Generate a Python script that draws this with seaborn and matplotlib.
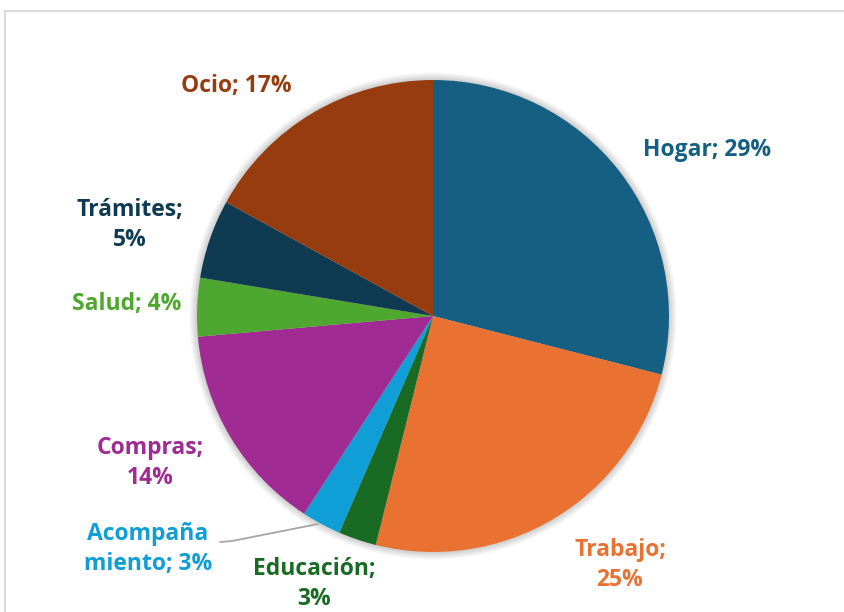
import matplotlib
matplotlib.use("Agg")
import matplotlib.pyplot as plt
import seaborn as sns
from matplotlib.patches import Rectangle, Circle

sns.set_theme(style="white")
plt.rcParams['font.family'] = ['Open Sans', 'DejaVu Sans']

categories = ["Hogar", "Trabajo", "Educación", "Acompañamiento", "Compras", "Salud", "Trámites", "Ocio"]
values = [29.0, 24.9, 2.6, 2.7, 14.4, 4.0, 5.4, 17.0]
label_texts = ["Hogar; 29%", "Trabajo;\n25%", "Educación;\n3%", "Acompaña\nmiento; 3%",
               "Compras;\n14%", "Salud; 4%", "Trámites;\n5%", "Ocio; 17%"]
colors = ["#156082", "#E97132", "#196B24", "#0F9ED5", "#A02B93", "#4EA72E", "#0E3B52", "#963C0F"]
label_colors = ["#156082", "#E97132", "#196B24", "#0F9ED5", "#A02B93", "#4EA72E", "#0E3B52", "#963C0F"]

W, H = 845, 612
CX, CY, R = 433, 316, 236
fig = plt.figure(figsize=(W / 100, H / 100), dpi=100)
ax = fig.add_axes([0, 0, 1, 1])

def px(x, y):
    return ((x - CX) / R, (CY - y) / R)

# soft shadow/glow
for i in range(8):
    ax.add_patch(Circle((0, 0), 1 + 0.004 * (i + 1), color="black", alpha=0.022, lw=0, zorder=1))

wedges, _ = ax.pie(values, colors=colors, startangle=90, counterclock=False, radius=1,
                   center=(0, 0), wedgeprops=dict(linewidth=0), frame=True)
for w in wedges:
    w.set_zorder(2)
ax.set_xlim(-CX / R, (W - CX) / R)
ax.set_ylim(-(H - CY) / R, CY / R)
ax.set_aspect("auto")
ax.axis("off")

label_pos = [(707, 150), (620, 565), (314, 584), (148, 549), (150, 463), (127, 304), (130, 225), (236, 86)]
for txt, (x, y), c in zip(label_texts, label_pos, label_colors):
    ax.text(*px(x, y), txt, ha="center", va="center", fontsize=16.5, fontweight="bold",
            color=c, linespacing=1.3, zorder=5)

# leader line for Acompañamiento
pts = [px(220, 542), px(232, 541), px(318, 524)]
ax.plot([p[0] for p in pts], [p[1] for p in pts], color="#a6a6a6", lw=1.3, zorder=3)

# chart border
fig.patches.append(Rectangle((5 / W, -0.1), 2.0, 1.1 - 11 / H, transform=fig.transFigure,
                             fill=False, edgecolor="#d9d9d9", lw=1.5))

fig.savefig("out.png", dpi=100)
